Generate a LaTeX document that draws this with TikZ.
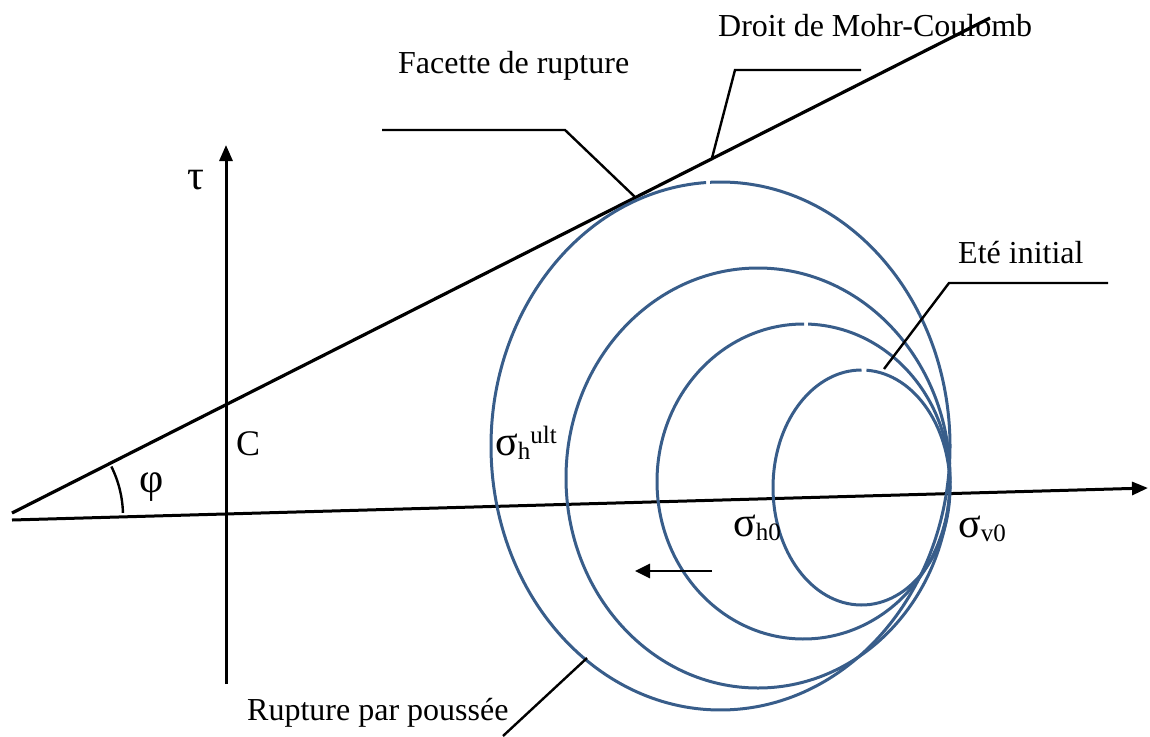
\documentclass[tikz,border=0pt]{standalone}
\usepackage{fontspec}
\setmainfont{Liberation Serif}
\usetikzlibrary{arrows.meta}
\definecolor{ellblue}{RGB}{56,93,138}
\newcommand{\mysub}[1]{\raisebox{-4pt}{\fontsize{25}{28}\selectfont #1}}
\newcommand{\mysup}[1]{\raisebox{12pt}{\fontsize{25}{28}\selectfont #1}}
\begin{document}
\begin{tikzpicture}[x=1pt,y=-1pt,
  lbl/.style={inner sep=0pt, font=\fontsize{32}{38}\selectfont, anchor=base west},
  grk/.style={inner sep=0pt, font=\fontsize{42}{48}\selectfont},
  sig/.style={inner sep=0pt, font=\fontsize{42}{48}\selectfont, anchor=base west},
  axisline/.style={line width=3pt, -{Triangle[length=16pt,width=13pt]}},
  mcline/.style={line width=3.2pt},
  leader/.style={line width=2.4pt},
  ell/.style={line width=3pt, draw=ellblue},
]
\useasboundingbox (0,0) rectangle (1150,736);

% axes
\coordinate (o) at (12,520);
\coordinate (xend) at (1148,488);
\coordinate (ybot) at (226,684);
\coordinate (ytop) at (226,145);
\draw[axisline] (o) -- (xend);
\draw[axisline] (ybot) -- (ytop);

% Mohr-Coulomb line
\coordinate (mc0) at (12,513);
\coordinate (mc1) at (990,18);
\draw[mcline] (mc0) -- (mc1);

% angle phi
\draw[line width=2.4pt] (12,516) ++(-26.5:111) arc[start angle=-26.5, end angle=-1.6, radius=111];

% ellipses
\draw[ell] (720.5,446) ++(267.4:229.5 and 264) arc[start angle=267.4, end angle=626.4, x radius=229.5, y radius=264];
\draw[ell] (758,478) ellipse[x radius=192, y radius=210];
\draw[ell] (803.5,481.5) ++(271.8:146.5 and 157.5) arc[start angle=271.8, end angle=630.2, x radius=146.5, y radius=157.5];
\draw[ell] (861.5,487.5) ++(273.2:88.5 and 117.5) arc[start angle=273.2, end angle=630, x radius=88.5, y radius=117.5];

% small arrow
\coordinate (a0) at (712,571);
\coordinate (a1) at (635,571);
\draw[line width=2.8pt, -{Triangle[length=15pt,width=14pt]}] (a0) -- (a1);

% labels
\node[lbl] (mctext) at (718,36) {Droit de Mohr-Coulomb};
\node[lbl] (factext) at (398,73) {Facette de rupture};
\node[lbl] (etetext) at (958,263) {Eté initial};
\node[lbl] (ruptext) at (247,720) {Rupture par poussée};
\node[lbl, font=\fontsize{36}{42}\selectfont] (ctext) at (236,455) {C};
\node[grk] (tau) at (196,180) {τ};
\node[grk] (phi) at (152,487) {φ};
\node[sig] (shult) at (495,455) {σ\mysub{h}\mysup{ult}};
\node[sig] (sh0) at (733,536) {σ\mysub{h0}};
\node[sig] (sv0) at (958,537) {σ\mysub{v0}};

% leaders
\coordinate (f0) at (382,130);
\coordinate (f1) at (565,130);
\coordinate (f2) at (635,197);
\draw[leader] (f0) -- (f1) -- (f2);
\coordinate (m0) at (861,70);
\coordinate (m1) at (735,70);
\coordinate (m2) at (712,158);
\draw[leader] (m0) -- (m1) -- (m2);
\coordinate (e0) at (1108,283);
\coordinate (e1) at (949,283);
\coordinate (e2) at (884,369);
\draw[leader] (e0) -- (e1) -- (e2);
\coordinate (r0) at (587,658);
\coordinate (r1) at (503,736);
\draw[leader] (r0) -- (r1);
\end{tikzpicture}
\end{document}
